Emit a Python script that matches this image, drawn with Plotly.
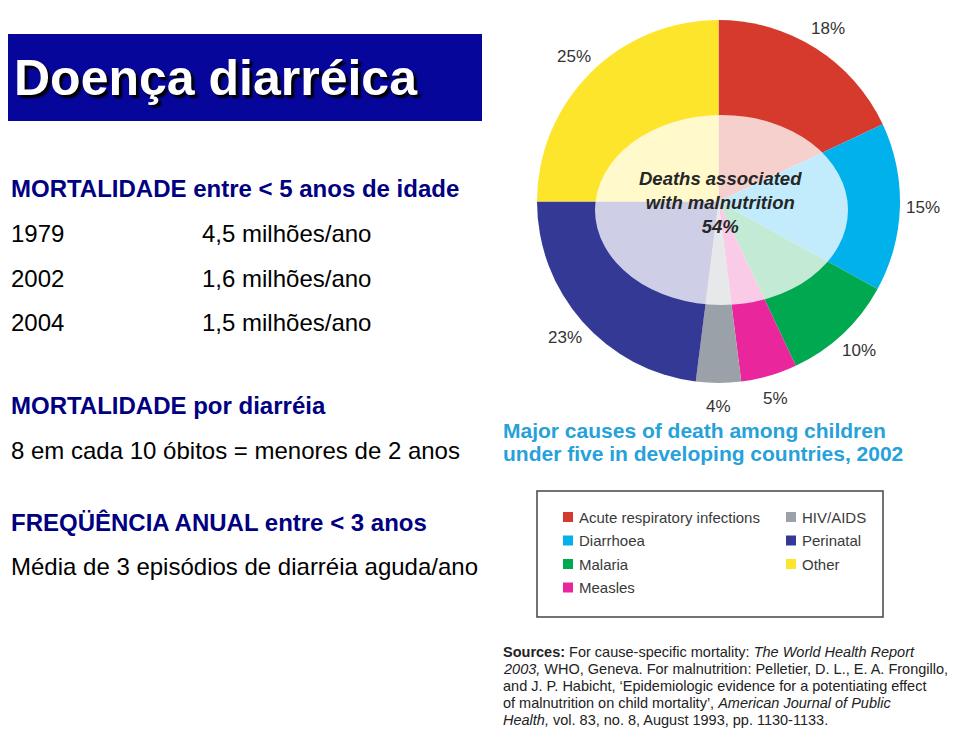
import math
import plotly.graph_objects as go

# causas de morte < 5 anos (OMS 2002), sentido horário a partir das 12h
causes = ['Acute respiratory infections', 'Diarrhoea', 'Malaria', 'Measles',
          'HIV/AIDS', 'Perinatal', 'Other']
shares = [18, 15, 10, 5, 4, 23, 25]
colors = ['#d63a2c', '#00b1ec', '#00a84f', '#e9269b', '#9ba1a9', '#343996', '#fde52c']

# ordem da legenda (coluna 1 e coluna 2)
legend_col1 = ['Acute respiratory infections', 'Diarrhoea', 'Malaria', 'Measles']
legend_col2 = ['HIV/AIDS', 'Perinatal', 'Other']

mortality_years = ['1979', '2002', '2004']
mortality_values = ['4,5 milhões/ano', '1,6 milhões/ano', '1,5 milhões/ano']

W, H = 960, 738
OFF = 8  # margem padrão do <body> da página
NAVY = '#000080'
FONT = 'Liberation Sans, Arial, sans-serif'


def px(x, y):
    """pixel da janela (topo-esquerda) -> coordenadas paper"""
    return (x - OFF) / W, 1 - (y - OFF) / H


fig = go.Figure()

# pizza: centro (718, 201), raio ~181 px
PIE_CX, PIE_CY, PIE_R = 718.5, 201.5, 181.5
dx0, dy0 = px(PIE_CX - PIE_R, PIE_CY + PIE_R)
dx1, dy1 = px(PIE_CX + PIE_R, PIE_CY - PIE_R)
fig.add_trace(go.Pie(
    labels=causes,
    values=shares,
    marker=dict(colors=colors, line=dict(width=0)),
    sort=False,
    direction='clockwise',
    rotation=0,
    textinfo='none',
    automargin=False,
    showlegend=False,
    hoverinfo='label+percent',
    domain=dict(x=[dx0, dx1], y=[dy0, dy1]),
))

shapes = []
annotations = []

# rótulos de percentagem fora da pizza, no ângulo médio de cada fatia
total = sum(shares)
acc = 0
for s in shares:
    mid = (acc + s / 2) / total * 2 * math.pi
    acc += s
    lx = PIE_CX + 205 * math.sin(mid)
    ly = PIE_CY - 205 * math.cos(mid)
    ax, ay = px(lx, ly)
    annotations.append(dict(x=ax, y=ay, text=f'{s}%', xanchor='center', yanchor='middle',
                            font=dict(family=FONT, size=17, color='#333333')))

# faixa do título
x0, y0 = px(0, 121)
x1, y1 = px(482, 34)
shapes.append(dict(type='rect', xref='paper', yref='paper', x0=x0, y0=y0, x1=x1, y1=y1,
                   fillcolor='#06069a', line=dict(width=0), layer='below'))
tx, ty = px(12, 78)
annotations.append(dict(x=tx, y=ty, text='<b>Doença diarréica</b>', xanchor='left', yanchor='middle',
                        font=dict(family=FONT, size=50, color='white', shadow='3px 3px 2px #000000')))


def left_text(x, y, text, color='black', bold=False):
    ax, ay = px(x, y)
    if bold:
        text = '<b>' + text + '</b>'
    annotations.append(dict(x=ax, y=ay, text=text, xanchor='left', yanchor='middle',
                            font=dict(family=FONT, size=24, color=color)))


LEFT = 9
left_text(LEFT, 188, 'MORTALIDADE entre &lt; 5 anos de idade', NAVY, True)
for i, (yr, val) in enumerate(zip(mortality_years, mortality_values)):
    yy = 233 + i * 45
    left_text(LEFT, yy, yr)
    left_text(200, yy, val)
left_text(LEFT, 405, 'MORTALIDADE por diarréia', NAVY, True)
left_text(LEFT, 450, '8 em cada 10 óbitos = menores de 2 anos')
left_text(LEFT, 522, 'FREQÜÊNCIA ANUAL entre &lt; 3 anos', NAVY, True)
left_text(LEFT, 566, 'Média de 3 episódios de diarréia aguda/ano')

# elipse translúcida central (mortes associadas à desnutrição)
x0, y0 = px(595, 305)
x1, y1 = px(848, 115)
shapes.append(dict(type='circle', xref='paper', yref='paper', x0=x0, y0=y0, x1=x1, y1=y1,
                   fillcolor='rgba(255,255,255,0.76)', line=dict(width=0), layer='above'))
cx, cy = px(720, 202)
annotations.append(dict(x=cx, y=cy, text='<b><i>Deaths associated<br>with malnutrition<br>54%</i></b>',
                        xanchor='center', yanchor='middle', align='center',
                        font=dict(family=FONT, size=18.5, color='#262626')))

# título do gráfico
for i, line in enumerate(['Major causes of death among children',
                          'under five in developing countries, 2002']):
    ax, ay = px(501, 430 + i * 24)
    annotations.append(dict(x=ax, y=ay, text='<b>' + line + '</b>', xanchor='left', yanchor='middle',
                            font=dict(family=FONT, size=21, color='#27a1da')))

# caixa da legenda
x0, y0 = px(537, 617)
x1, y1 = px(883, 491)
shapes.append(dict(type='rect', xref='paper', yref='paper', x0=x0, y0=y0, x1=x1, y1=y1,
                   fillcolor='white', line=dict(color='#444444', width=1.5), layer='below'))
color_of = dict(zip(causes, colors))
for col_x, names in [(563, legend_col1), (786, legend_col2)]:
    for j, name in enumerate(names):
        yy = 517 + j * 23.5
        sx0, sy0 = px(col_x, yy + 5)
        sx1, sy1 = px(col_x + 10, yy - 5)
        shapes.append(dict(type='rect', xref='paper', yref='paper', x0=sx0, y0=sy0, x1=sx1, y1=sy1,
                           fillcolor=color_of[name], line=dict(width=0)))
        ax, ay = px(col_x + 14, yy)
        annotations.append(dict(x=ax, y=ay, text=name, xanchor='left', yanchor='middle',
                                font=dict(family=FONT, size=15, color='#3a3a3a')))

# fontes
source_lines = [
    '<b>Sources:</b> For cause-specific mortality: <i>The World Health Report</i>',
    '<i>2003,</i> WHO, Geneva. For malnutrition: Pelletier, D. L., E. A. Frongillo,',
    'and J. P. Habicht, ‘Epidemiologic evidence for a potentiating effect',
    'of malnutrition on child mortality’, <i>American Journal of Public</i>',
    '<i>Health,</i> vol. 83, no. 8, August 1993, pp. 1130-1133.',
]
for i, line in enumerate(source_lines):
    ax, ay = px(501, 652 + i * 17)
    annotations.append(dict(x=ax, y=ay, text=line, xanchor='left', yanchor='middle',
                            font=dict(family=FONT, size=14.5, color='#222222')))

for a in annotations:
    a.setdefault('xref', 'paper')
    a.setdefault('yref', 'paper')
    a.setdefault('showarrow', False)

fig.update_layout(
    width=W,
    height=H,
    margin=dict(l=0, r=0, t=0, b=0),
    paper_bgcolor='white',
    plot_bgcolor='white',
    shapes=shapes,
    annotations=annotations,
    showlegend=False,
)

fig.write_html("out.html")
